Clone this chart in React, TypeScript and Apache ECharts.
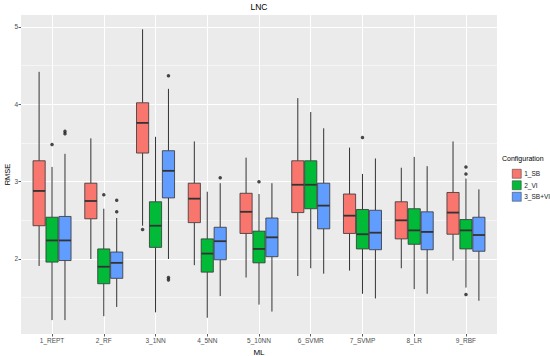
import React, { useEffect, useRef } from "react";
import * as echarts from "echarts";

const categories = ["1_REPT", "2_RF", "3_1NN", "4_5NN", "5_10NN", "6_SVMR", "7_SVMP", "8_LR", "9_RBF"];
const configs = ["1_SB", "2_VI", "3_SB+VI"];
const fills = ["#F8766D", "#00BA38", "#619CFF"];
const yTicks = [2, 3, 4, 5];
const yMinorTicks = [1.5, 2.5, 3.5, 4.5];

// [low whisker, Q1, median, Q3, high whisker]
const sbBoxes = [
  [1.91, 2.43, 2.88, 3.27, 4.42],
  [2.0, 2.52, 2.75, 2.98, 3.56],
  [2.43, 3.37, 3.76, 4.02, 4.97],
  [1.92, 2.47, 2.78, 2.98, 3.52],
  [1.76, 2.33, 2.61, 2.85, 3.31],
  [1.78, 2.6, 2.96, 3.27, 4.08],
  [1.85, 2.33, 2.56, 2.84, 3.44],
  [1.88, 2.26, 2.5, 2.74, 3.18],
  [1.98, 2.32, 2.6, 2.86, 3.52],
];
const viBoxes = [
  [1.21, 1.96, 2.24, 2.54, 3.19],
  [1.26, 1.68, 1.9, 2.13, 2.65],
  [1.31, 2.15, 2.43, 2.74, 3.58],
  [1.24, 1.83, 2.07, 2.26, 2.87],
  [1.41, 1.95, 2.13, 2.36, 2.84],
  [1.88, 2.65, 2.96, 3.27, 3.9],
  [1.55, 2.13, 2.32, 2.64, 3.1],
  [1.61, 2.19, 2.37, 2.65, 3.32],
  [1.63, 2.13, 2.37, 2.51, 3.04],
];
const sbviBoxes = [
  [1.21, 1.98, 2.24, 2.55, 3.36],
  [1.38, 1.75, 1.95, 2.09, 2.53],
  [2.0, 2.79, 3.14, 3.4, 4.2],
  [1.52, 1.99, 2.23, 2.41, 2.98],
  [1.32, 2.03, 2.28, 2.53, 2.98],
  [1.81, 2.39, 2.69, 2.98, 3.69],
  [1.49, 2.12, 2.34, 2.63, 3.3],
  [1.55, 2.12, 2.35, 2.61, 3.2],
  [1.46, 2.1, 2.31, 2.54, 2.9],
];
// [category index, value]
const sbOutliers = [[2, 2.38]];
const viOutliers = [[0, 3.48], [1, 2.83], [4, 3.0], [6, 3.57], [8, 3.19], [8, 3.1], [8, 1.54]];
const sbviOutliers = [[0, 3.65], [0, 3.62], [1, 2.76], [1, 2.61], [2, 4.37], [2, 1.76], [2, 1.73], [3, 3.05]];

const boxSets = [sbBoxes, viBoxes, sbviBoxes];
const outlierSets = [sbOutliers, viOutliers, sbviOutliers];
const dodge = [-0.25, 0, 0.25];
const BOX_W = 0.235;
const FONT = "Liberation Sans";

export default function App() {
  const ref = useRef<HTMLDivElement>(null);
  useEffect(() => {
    if (!ref.current) return;
    const chart = echarts.init(ref.current, null, { renderer: "svg" });

    const boxSeries = configs.map((name, si) => ({
      name,
      type: "custom",
      xAxisIndex: 0,
      yAxisIndex: 0,
      z: 5,
      itemStyle: { color: fills[si] },
      encode: { x: 0, y: [1, 5] },
      data: boxSets[si].map((b, i) => [i + 1 + dodge[si], ...b]),
      renderItem: (params: any, api: any) => {
        const x = api.value(0);
        const pLow = api.coord([x, api.value(1)]);
        const pQ1 = api.coord([x, api.value(2)]);
        const pMed = api.coord([x, api.value(3)]);
        const pQ3 = api.coord([x, api.value(4)]);
        const pHigh = api.coord([x, api.value(5)]);
        const half = api.size([BOX_W, 0])[0] / 2;
        const stroke = "#333333";
        return {
          type: "group",
          children: [
            { type: "line", shape: { x1: pHigh[0], y1: pHigh[1], x2: pQ3[0], y2: pQ3[1] }, style: { stroke, lineWidth: 1 } },
            { type: "line", shape: { x1: pLow[0], y1: pLow[1], x2: pQ1[0], y2: pQ1[1] }, style: { stroke, lineWidth: 1 } },
            {
              type: "rect",
              shape: { x: pQ3[0] - half, y: pQ3[1], width: half * 2, height: pQ1[1] - pQ3[1] },
              style: { fill: fills[si], stroke, lineWidth: 0.8 },
            },
            { type: "line", shape: { x1: pMed[0] - half, y1: pMed[1], x2: pMed[0] + half, y2: pMed[1] }, style: { stroke, lineWidth: 1.8 } },
          ],
        };
      },
    }));

    const outlierSeries = configs.map((name, si) => ({
      name: name + " outliers",
      type: "scatter",
      z: 6,
      symbol: "circle",
      symbolSize: 3.5,
      itemStyle: { color: "#1a1a1a" },
      data: outlierSets[si].map(([c, v]) => [c + 1 + dodge[si], v]),
      silent: true,
    }));

    chart.setOption({
      animation: false,
      textStyle: { fontFamily: FONT },
      grid: {
        left: 21,
        right: 53,
        top: 15,
        bottom: 22,
        show: true,
        backgroundColor: "#EBEBEB",
        borderWidth: 0,
        containLabel: false,
        outerBoundsMode: "none",
      },
      xAxis: {
        type: "value",
        min: 0.4,
        max: 9.6,
        name: "ML",
        nameLocation: "middle",
        nameGap: 13,
        nameTextStyle: { fontSize: 8, color: "#000", fontFamily: FONT },
        axisLine: { show: false },
        axisTick: { show: true, length: 2.5, lineStyle: { color: "#333", width: 0.8 }, customValues: categories.map((_, i) => i + 1) },
        axisLabel: {
          customValues: categories.map((_, i) => i + 1),
          formatter: (v: number) => categories[Math.round(v) - 1] ?? "",
          fontSize: 6.5,
          color: "#4D4D4D",
          margin: 3,
          fontFamily: FONT,
        },
        splitLine: { show: true, lineStyle: { color: "#FFFFFF", width: 1 } },
      },
      yAxis: [
        {
          type: "value",
          min: 1.03,
          max: 5.155,
          axisLine: { show: false },
          axisTick: { show: true, length: 2.5, lineStyle: { color: "#333", width: 0.8 }, customValues: yTicks },
          axisLabel: {
            customValues: yTicks,
            formatter: (v: number) => String(v),
            fontSize: 6.5,
            color: "#4D4D4D",
            margin: 3,
            fontFamily: FONT,
          },
          splitLine: { show: true, lineStyle: { color: "#FFFFFF", width: 1 } },
        },
        {
          type: "value",
          min: 1.03,
          max: 5.155,
          position: "left",
          axisLine: { show: false },
          axisTick: { show: false, customValues: yMinorTicks },
          axisLabel: { show: false, customValues: yMinorTicks },
          splitLine: { show: true, lineStyle: { color: "#FFFFFF", width: 0.5 } },
        },
      ],
      legend: {
        orient: "vertical",
        left: 507,
        top: 164,
        itemWidth: 9,
        itemHeight: 9,
        itemGap: 2,
        icon: "rect",
        data: configs,
        itemStyle: { borderColor: "#333", borderWidth: 0.5 },
        textStyle: { fontSize: 6.5, color: "#1a1a1a", fontFamily: FONT, padding: [0, 0, 0, -2] },
      },
      graphic: [
        {
          type: "text",
          x: 259,
          y: 7,
          style: { text: "LNC", fontSize: 8.5, fill: "#000", align: "center", verticalAlign: "middle", fontFamily: FONT },
        },
        {
          type: "text",
          x: 7,
          y: 174.5,
          rotation: Math.PI / 2,
          style: { text: "RMSE", fontSize: 7.5, fill: "#000", align: "center", verticalAlign: "middle", fontFamily: FONT },
        },
        {
          type: "text",
          x: 502,
          y: 158,
          style: { text: "Configuration", fontSize: 7, fill: "#000", align: "left", verticalAlign: "middle", fontFamily: FONT },
        },
      ],
      series: [...boxSeries, ...outlierSeries],
    });
    return () => chart.dispose();
  }, []);
  return <div ref={ref} style={{ width: 550, height: 356, position: "absolute", left: 0, top: 0 }} />;
}
